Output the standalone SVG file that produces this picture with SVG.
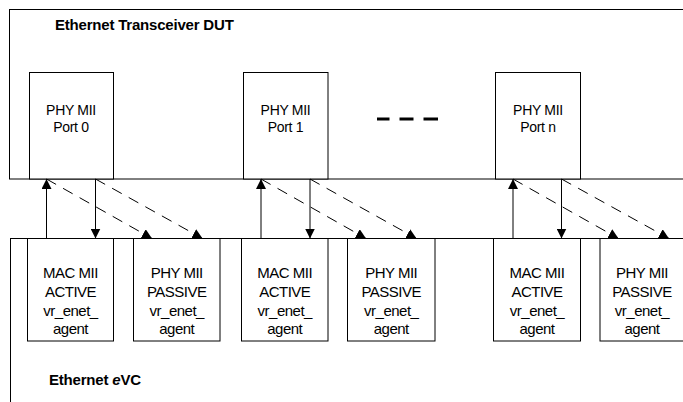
<svg xmlns="http://www.w3.org/2000/svg" width="683" height="402" viewBox="0 0 683 402">
<style>
.box{fill:#fff;stroke:#000;stroke-width:1}
.t{font-family:"Liberation Sans",Arial,sans-serif;font-size:15px;fill:#000;text-anchor:middle;letter-spacing:-0.5px}
.tp{font-family:"Liberation Sans",Arial,sans-serif;font-size:14px;fill:#000;text-anchor:middle;letter-spacing:-0.3px}
.title{font-family:"Liberation Sans",Arial,sans-serif;font-size:15px;font-weight:bold;fill:#000;letter-spacing:-0.2px}
.solid{stroke:#000;stroke-width:1;fill:none;marker-end:url(#ah)}
.dash{stroke:#000;stroke-width:1;fill:none;stroke-dasharray:11 8;marker-end:url(#ah)}
</style>
<defs>
<marker id="ah" markerUnits="userSpaceOnUse" markerWidth="10" markerHeight="10" refX="10" refY="5" orient="auto">
<path d="M0,0 L10,5 L0,10 z" fill="#000"/>
</marker>
</defs>
<rect width="683" height="402" fill="#fff"/>
<g id="dut">
<rect class="box" x="9.5" y="9.5" width="700" height="169.5"/>
<text class="title" x="55" y="29.5">Ethernet Transceiver DUT</text>
</g>
<g id="phy0">
<rect class="box" x="29.5" y="72.5" width="84" height="106.5"/>
<text class="tp" x="71" y="115">PHY MII</text>
<text class="tp" x="71" y="132">Port 0</text>
</g>
<g id="phy1">
<rect class="box" x="243.5" y="72.5" width="84.5" height="106.5"/>
<text class="tp" x="285.5" y="115">PHY MII</text>
<text class="tp" x="285.5" y="132">Port 1</text>
</g>
<g id="ellipsis">
<line x1="377" y1="119" x2="389.5" y2="119" stroke="#000" stroke-width="3"/>
<line x1="399.5" y1="119" x2="413.5" y2="119" stroke="#000" stroke-width="3"/>
<line x1="423.5" y1="119" x2="438" y2="119" stroke="#000" stroke-width="3"/>
</g>
<g id="phyn">
<rect class="box" x="495.5" y="72.5" width="85" height="106.5"/>
<text class="tp" x="538" y="115">PHY MII</text>
<text class="tp" x="538" y="132">Port n</text>
</g>
<g id="evc">
<rect class="box" x="10.5" y="238.5" width="700" height="200"/>
<text class="title" x="49" y="385">Ethernet <tspan font-style="italic">e</tspan>VC</text>
</g>
<g id="mac0">
<rect class="box" x="27.5" y="238.5" width="86" height="102.5"/>
<text class="t" x="70.5" y="278">MAC MII</text>
<text class="t" x="70.5" y="297">ACTIVE</text>
<text class="t" x="70.5" y="315.5">vr_enet_</text>
<text class="t" x="70.5" y="334">agent</text>
</g>
<g id="pass0">
<rect class="box" x="133.5" y="238.5" width="86.5" height="102.5"/>
<text class="t" x="176.75" y="278">PHY MII</text>
<text class="t" x="176.75" y="297">PASSIVE</text>
<text class="t" x="176.75" y="315.5">vr_enet_</text>
<text class="t" x="176.75" y="334">agent</text>
</g>
<g id="mac1">
<rect class="box" x="241.5" y="238.5" width="86.5" height="102.5"/>
<text class="t" x="284.75" y="278">MAC MII</text>
<text class="t" x="284.75" y="297">ACTIVE</text>
<text class="t" x="284.75" y="315.5">vr_enet_</text>
<text class="t" x="284.75" y="334">agent</text>
</g>
<g id="pass1">
<rect class="box" x="347.5" y="238.5" width="87.5" height="102.5"/>
<text class="t" x="391.25" y="278">PHY MII</text>
<text class="t" x="391.25" y="297">PASSIVE</text>
<text class="t" x="391.25" y="315.5">vr_enet_</text>
<text class="t" x="391.25" y="334">agent</text>
</g>
<g id="macn">
<rect class="box" x="493.5" y="238.5" width="87" height="102.5"/>
<text class="t" x="537" y="278">MAC MII</text>
<text class="t" x="537" y="297">ACTIVE</text>
<text class="t" x="537" y="315.5">vr_enet_</text>
<text class="t" x="537" y="334">agent</text>
</g>
<g id="passn">
<rect class="box" x="600" y="238.5" width="87" height="102.5"/>
<text class="t" x="642" y="278">PHY MII</text>
<text class="t" x="642" y="297">PASSIVE</text>
<text class="t" x="642" y="315.5">vr_enet_</text>
<text class="t" x="642" y="334">agent</text>
</g>
<g id="connectors">
<line class="solid" x1="46.5" y1="238.5" x2="46.5" y2="179"/>
<line class="solid" x1="95.5" y1="179" x2="95.5" y2="238.5"/>
<line class="dash" x1="46.5" y1="179" x2="152" y2="238.5"/>
<line class="dash" x1="95.5" y1="179" x2="202.5" y2="238.5"/>
<line class="solid" x1="261" y1="238.5" x2="261" y2="179"/>
<line class="solid" x1="310" y1="179" x2="310" y2="238.5"/>
<line class="dash" x1="261" y1="179" x2="366" y2="238.5"/>
<line class="dash" x1="310" y1="179" x2="416.5" y2="238.5"/>
<line class="solid" x1="513" y1="238.5" x2="513" y2="179"/>
<line class="solid" x1="561.5" y1="179" x2="561.5" y2="238.5"/>
<line class="dash" x1="513" y1="179" x2="618.5" y2="238.5"/>
<line class="dash" x1="561.5" y1="179" x2="669" y2="238.5"/>
</g>
</svg>
